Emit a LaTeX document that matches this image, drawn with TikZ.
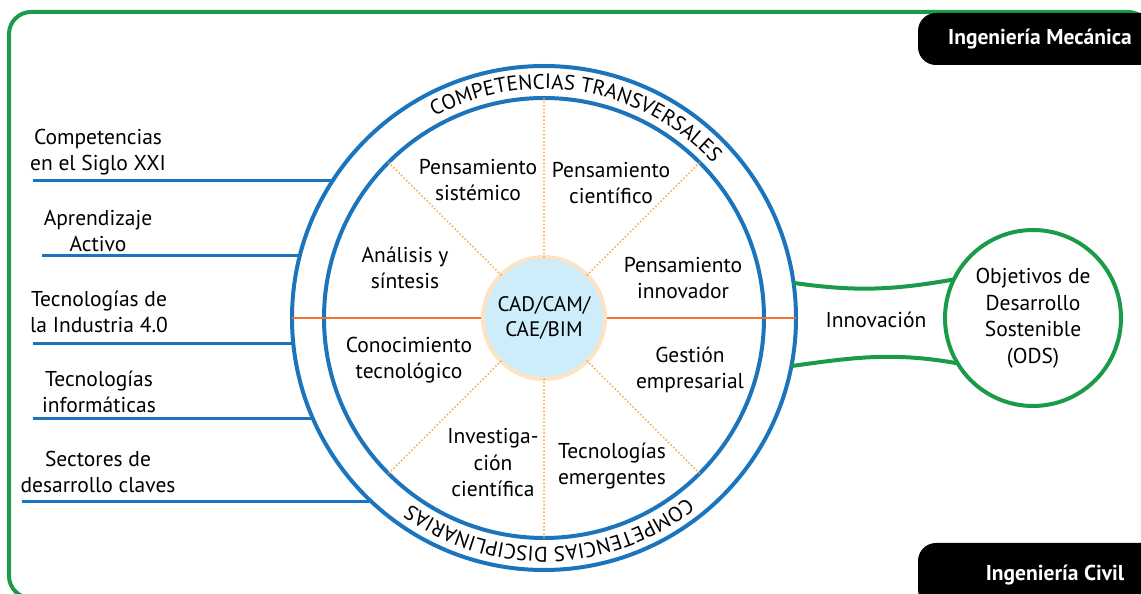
\documentclass[tikz,border=0pt]{standalone}
\usepackage{fontspec}
\setmainfont{PT Sans}
\setsansfont{PT Sans}
\usetikzlibrary{calc, decorations.text}
\definecolor{cblue}{HTML}{1C75BC}
\definecolor{cgreen}{HTML}{1A9B48}
\definecolor{corange}{HTML}{F26F2C}
\definecolor{cdot}{HTML}{F7A13A}
\definecolor{chub}{HTML}{CDEDFA}
\definecolor{cpeach}{HTML}{FCE3C4}
\newcommand{\ringfont}{\fontsize{21}{24}\selectfont}
\tikzset{
  every picture/.style={x=1pt, y=1pt, font=\fontsize{21.5}{26.5}\selectfont},
  ring/.style={circle, draw=cblue, line width=4pt, inner sep=0pt, outer sep=0pt, minimum size=#1},
  hub/.style={circle, fill=chub, draw=cpeach, line width=4pt, inner sep=0pt, outer sep=0pt, minimum size=122pt, align=center, font=\fontsize{21}{25}\selectfont},
  goal/.style={circle, draw=cgreen, line width=4pt, inner sep=0pt, outer sep=0pt, minimum size=176pt, align=center},
  lbl/.style={align=center, inner sep=0pt},
  tag/.style={fill=black, text=white, rounded corners=18pt, font=\bfseries\fontsize{21.5}{22}\selectfont, inner sep=0pt},
  link/.style={draw=cblue, line width=3pt},
  bridge/.style={draw=cgreen, line width=4pt},
  axis/.style={draw=corange, line width=2pt},
  spoke/.style={draw=cdot, line width=2pt, line cap=round, dash pattern=on 0pt off 3.6pt},
  ringtext/.style={decorate, decoration={text along path, text align=center, text={#1}}},
}

\begin{document}
\begin{tikzpicture}
  \useasboundingbox (0,0) rectangle (1141,594);
  \clip (0,0) rectangle (1141,594);
  % frame and tags
  \draw[cgreen, line width=4pt, rounded corners=22pt] (9,-4) rectangle (1150,582);
  \node[tag, minimum width=244pt, minimum height=52pt] (mec) at (1040,555) {Ingeniería Mecánica};
  \node[tag, minimum width=274pt, minimum height=64pt] (civ) at (1055,19) {Ingeniería Civil};

  % wheel
  \node[ring=504pt] (outer) at (544,276) {};
  \node[ring=440pt] (inner) at (544,276) {};
  \draw[axis] (outer.180) -- (outer.0);
  \node[hub] (hub) at (544,276) {CAD/CAM/\\CAE/BIM};
  \foreach \a in {45,90,135,225,270,315}
    \draw[spoke] (hub.\a) -- (inner.\a);
  \path[ringtext={|\ringfont|COMPETENCIAS TRANSVERSALES}]
    ($(outer.center)+(140.5:229)$) arc[start angle=140.5, end angle=20.5, radius=229];
  \path[ringtext={|\ringfont|COMPETENCIAS DISCIPLINARIAS}]
    ($(outer.center)+(331.5:229)$) arc[start angle=331.5, end angle=211.5, radius=229];

  \node[lbl] (sist) at (478,414) {Pensamiento\\sistémico};
  \node[lbl] (cien) at (611,411) {Pensamiento\\científico};
  \node[lbl] (inno) at (683,316) {Pensamiento\\innovador};
  \node[lbl] (gest) at (690,224) {Gestión\\empresarial};
  \node[lbl] (emer) at (612,128) {Tecnologías\\emergentes};
  \node[lbl] (inve) at (493,131) {Investiga-\\ción\\científica};
  \node[lbl] (cono) at (409,234) {Conocimiento\\tecnológico};
  \node[lbl] (anal) at (405,326) {Análisis y\\síntesis};

  % left side
  \node[lbl] (siglo) at (98,442) {Competencias\\en el Siglo XXI};
  \node[lbl] (apre) at (98,363) {Aprendizaje\\Activo};
  \node[lbl] (indu) at (99,282) {Tecnologías de\\la Industria 4.0};
  \node[lbl] (info) at (99,202) {Tecnologías\\informáticas};
  \node[lbl] (sect) at (98,122) {Sectores de\\desarrollo claves};
  \foreach \i/\x/\y/\a in {1/33/413/147.1, 2/42/338/165.8, 3/33/250/185.9, 4/33/175/203.6, 5/22/92/226.9}{
    \coordinate (s\i) at (\x,\y);
    \draw[link] (s\i) -- (s\i -| outer.\a);
  }

  % right side
  \node[goal] (ods) at (1033,276) {Objetivos de\\Desarrollo\\Sostenible\\(ODS)};
  \draw[bridge] (outer.8.4) to[out=-8, in=190] (ods.154.6);
  \draw[bridge] (outer.349.7) to[out=8, in=170] (ods.211.2);
  \node[lbl] (innov) at (876,274) {Innovación};
\end{tikzpicture}
\end{document}
